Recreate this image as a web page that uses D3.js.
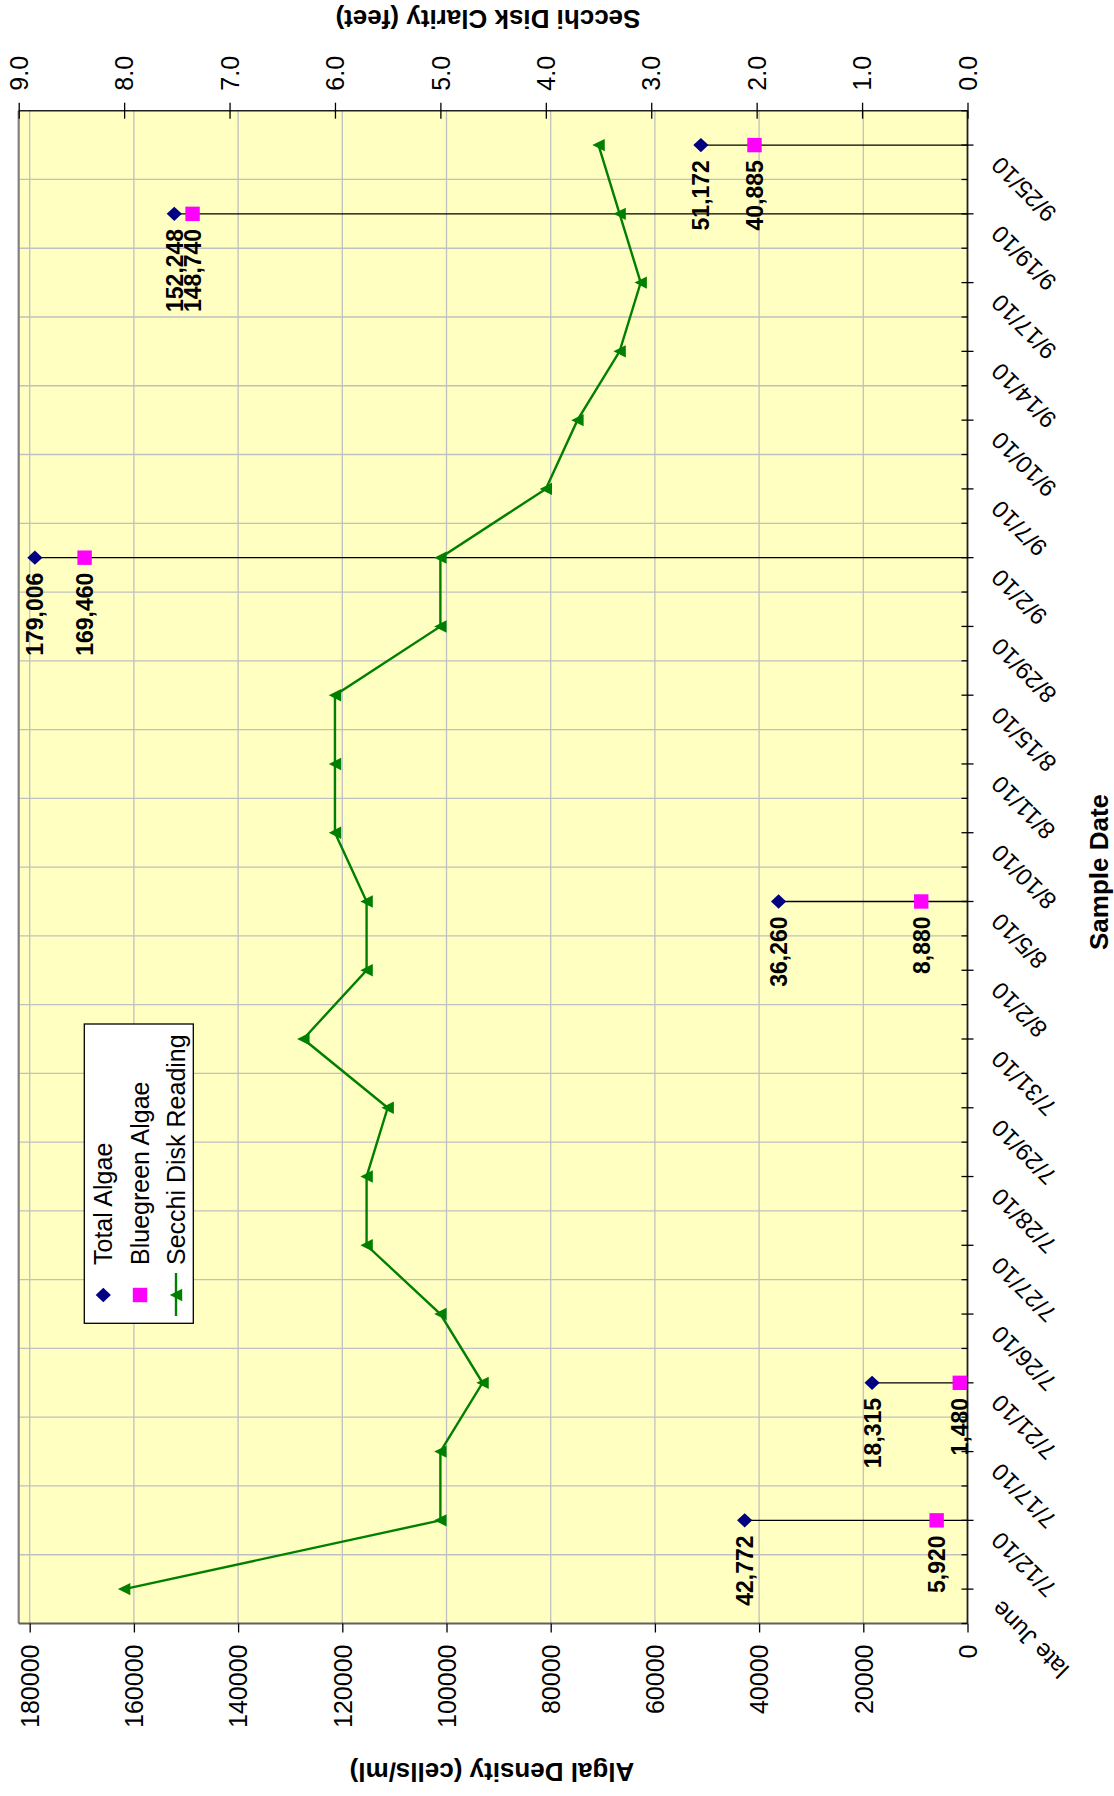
<!DOCTYPE html>
<html><head><meta charset="utf-8">
<script src="https://cdn.jsdelivr.net/npm/d3@7"></script>
<style>
body{margin:0;background:#fff}
svg{display:block}
text{font-family:"Liberation Sans",Arial,Helvetica,sans-serif}
</style>
</head><body>
<svg id="c" width="1114" height="1796"></svg>
<script>
// ---- data ----
const categories = ["late June","7/12/10","7/17/10","7/21/10","7/26/10","7/27/10","7/28/10","7/29/10","7/31/10","8/2/10","8/5/10","8/10/10","8/11/10","8/15/10","8/29/10","9/2/10","9/7/10","9/10/10","9/14/10","9/17/10","9/19/10","9/25/10"];
const secchiValues = [8.0,5.0,5.0,4.6,5.0,5.7,5.7,5.5,6.3,5.7,5.7,6.0,6.0,6.0,5.0,5.0,4.0,3.7,3.3,3.1,3.3,3.5];
const algaeDates = ["7/12/10","7/21/10","8/5/10","9/2/10","9/19/10","9/25/10"];
const totalAlgae = [42772,18315,36260,179006,152248,51172];
const bluegreenAlgae = [5920,1480,8880,169460,148740,40885];
const algalTicks = [0,20000,40000,60000,80000,100000,120000,140000,160000,180000];
const secchiTicks = [0,1,2,3,4,5,6,7,8,9];
const seriesNames = ["Total Algae","Bluegreen Algae","Secchi Disk Reading"];
const titles = {algal:"Algal Density (cells/ml)", secchi:"Secchi Disk Clarity (feet)", date:"Sample Date"};

// ---- layout ----
const L=18.7, R=967.5, T=110.7, B=1623.5;
const svg = d3.select("#c");
const y = d3.scaleBand().domain(categories).range([B,T]);
const bw = y.bandwidth();
const cy = c => y(c) + bw/2;
const xS = d3.scaleLinear().domain([0,9]).range([R,L]);
const xA = d3.scaleLinear().domain([0,180000]).range([R,29.7]);
const FONT = "Liberation Sans, Arial, sans-serif";

// plot background
svg.append("rect").attr("x",L).attr("y",T).attr("width",R-L).attr("height",B-T).attr("fill","#ffffc2");

// gridlines
const grid = svg.append("g").attr("stroke","#c0c0c0").attr("stroke-width",1.3);
grid.selectAll("line.v").data(algalTicks.filter(d=>d>0)).join("line")
  .attr("x1",d=>xA(d)).attr("x2",d=>xA(d)).attr("y1",T).attr("y2",B);
grid.selectAll("line.h").data(categories.slice(1)).join("line")
  .attr("x1",L).attr("x2",R).attr("y1",d=>y(d)+bw).attr("y2",d=>y(d)+bw);

// borders
svg.append("line").attr("x1",L).attr("x2",L).attr("y1",T).attr("y2",B).attr("stroke","#808080").attr("stroke-width",2.2);
svg.append("line").attr("x1",L).attr("x2",R).attr("y1",B).attr("y2",B).attr("stroke","#606060").attr("stroke-width",2);
svg.append("line").attr("x1",L).attr("x2",R).attr("y1",T).attr("y2",T).attr("stroke","#202020").attr("stroke-width",1.6);
svg.append("line").attr("x1",R).attr("x2",R).attr("y1",T).attr("y2",B).attr("stroke","#202020").attr("stroke-width",1.8);

// top axis (Secchi)
const gTop = svg.append("g").attr("transform",`translate(0,${T})`)
  .call(d3.axisTop(xS).tickValues(secchiTicks).tickFormat(d3.format(".1f")).tickSize(8).tickSizeOuter(0));
gTop.attr("font-size",25).attr("font-family",FONT);
gTop.select(".domain").remove();
gTop.selectAll(".tick line").attr("y1",8).attr("stroke","#000").attr("stroke-width",1.3);
gTop.selectAll(".tick text").attr("x",0).attr("y",0).attr("dy","0.35em")
  .attr("transform","translate(0,-20) rotate(-90)").attr("text-anchor","start").attr("fill","#000");

// bottom axis (Algal density)
const gBot = svg.append("g").attr("transform",`translate(0,${B})`)
  .call(d3.axisBottom(xA).tickValues(algalTicks).tickFormat(d3.format("d")).tickSize(9).tickSizeOuter(0));
gBot.attr("font-size",25).attr("font-family",FONT);
gBot.select(".domain").remove();
gBot.selectAll(".tick line").attr("stroke","#000").attr("stroke-width",1.3);
gBot.selectAll(".tick text").attr("x",0).attr("y",0).attr("dy","0.35em")
  .attr("transform","translate(0,21) rotate(-90)").attr("text-anchor","end").attr("fill","#000");

// right axis (categories)
const gR = svg.append("g").attr("transform",`translate(${R},0)`)
  .call(d3.axisRight(y).tickSize(6).tickSizeOuter(0));
gR.attr("font-size",24).attr("font-family",FONT);
gR.select(".domain").remove();
gR.selectAll(".tick line").attr("x1",-6).attr("stroke","#000").attr("stroke-width",1.3);
gR.selectAll(".tick text").attr("x",0).attr("y",0).attr("dy",0)
  .attr("transform","translate(34,10) rotate(-135)").attr("text-anchor","end").attr("fill","#000");
// boundary ticks
gR.selectAll("line.bt").data(categories.map(c=>y(c)).concat([B])).join("line").attr("class","bt")
  .attr("x1",-6).attr("x2",0).attr("y1",d=>d).attr("y2",d=>d).attr("stroke","#000").attr("stroke-width",1.3);

// drop lines
svg.append("g").selectAll("line").data(algaeDates).join("line")
  .attr("x1",(d,i)=>xA(totalAlgae[i])).attr("x2",R).attr("y1",d=>cy(d)).attr("y2",d=>cy(d))
  .attr("stroke","#000").attr("stroke-width",1.4);

// Secchi line
const line = d3.line().x(d=>xS(d)).y((d,i)=>cy(categories[i]));
svg.append("path").datum(secchiValues).attr("d",line).attr("fill","none").attr("stroke","#008000").attr("stroke-width",2.4);
const triPath = "M-6.2,0L6.2,-6.2L6.2,6.2Z";
svg.append("g").selectAll("path").data(secchiValues).join("path")
  .attr("d",triPath).attr("fill","#008000")
  .attr("transform",(d,i)=>`translate(${xS(d)},${cy(categories[i])})`);

// markers
const diamondPath = "M-7.6,0L0,-7.2L7.6,0L0,7.2Z";
svg.append("g").selectAll("rect").data(algaeDates).join("rect")
  .attr("x",(d,i)=>xA(bluegreenAlgae[i])-7.2).attr("y",d=>cy(d)-7.2).attr("width",14.4).attr("height",14.4).attr("fill","#ff00ff");
svg.append("g").selectAll("path").data(algaeDates).join("path")
  .attr("d",diamondPath).attr("fill","#000080")
  .attr("transform",(d,i)=>`translate(${xA(totalAlgae[i])},${cy(d)})`);

// data labels
const fmt = d3.format(",");
function labels(vals){
  svg.append("g").selectAll("text").data(algaeDates).join("text")
    .attr("transform",(d,i)=>`translate(${xA(vals[i])},${cy(d)+15}) rotate(-90)`)
    .attr("text-anchor","end").attr("dy","0.37em")
    .attr("font-size",23).attr("font-weight","bold").attr("fill","#000")
    .text((d,i)=>fmt(vals[i]));
}
labels(totalAlgae);
labels(bluegreenAlgae);

// legend
const lg = svg.append("g");
lg.append("rect").attr("x",84.3).attr("y",1024).attr("width",109).attr("height",299.3)
  .attr("fill","#fff").attr("stroke","#000").attr("stroke-width",1.3);
const legX = [103.3,140,176];
lg.append("path").attr("d",diamondPath).attr("fill","#000080").attr("transform",`translate(${legX[0]},1295)`);
lg.append("rect").attr("x",legX[1]-7.2).attr("y",1295-7.2).attr("width",14.4).attr("height",14.4).attr("fill","#ff00ff");
lg.append("line").attr("x1",legX[2]).attr("x2",legX[2]).attr("y1",1273).attr("y2",1316).attr("stroke","#008000").attr("stroke-width",2.4);
lg.append("path").attr("d",triPath).attr("fill","#008000").attr("transform",`translate(${legX[2]},1295)`);
lg.selectAll("text").data(seriesNames).join("text")
  .attr("transform",(d,i)=>`translate(${legX[i]},1265) rotate(-90)`)
  .attr("text-anchor","start").attr("dy","0.35em").attr("font-size",25).attr("fill","#000")
  .text(d=>d);

// axis titles
svg.append("text").attr("transform","translate(492,1763) rotate(180)").attr("text-anchor","middle")
  .attr("font-size",26).attr("font-weight","bold").text(titles.algal);
svg.append("text").attr("transform","translate(488,10) rotate(180)").attr("text-anchor","middle")
  .attr("font-size",26).attr("font-weight","bold").text(titles.secchi);
svg.append("text").attr("transform","translate(1108,872) rotate(-90)").attr("text-anchor","middle")
  .attr("font-size",26).attr("font-weight","bold").text(titles.date);
</script>
</body></html>
